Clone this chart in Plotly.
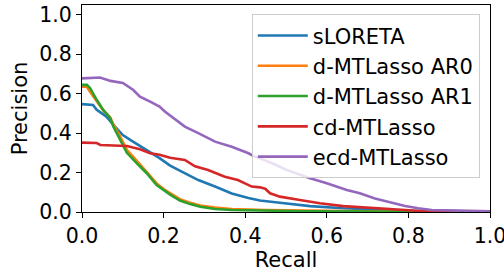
import plotly.graph_objects as go

# sLORETA
x_sloreta = [0, 0.027, 0.036, 0.06, 0.077, 0.1, 0.125, 0.158, 0.19, 0.216, 0.244, 0.285, 0.326, 0.367, 0.408, 0.436, 0.485, 0.559, 0.64, 0.73, 0.8, 0.9, 1.0]
y_sloreta = [0.547, 0.543, 0.518, 0.484, 0.442, 0.39, 0.357, 0.315, 0.273, 0.235, 0.205, 0.162, 0.129, 0.094, 0.071, 0.058, 0.047, 0.03, 0.019, 0.01, 0.006, 0.003, 0.0]

# d-MTLasso AR0
x_ar0 = [0, 0.012, 0.018, 0.036, 0.052, 0.069, 0.077, 0.093, 0.11, 0.134, 0.158, 0.183, 0.203, 0.216, 0.24, 0.265, 0.29, 0.326, 0.367, 0.45, 0.55, 0.7, 0.85, 1.0]
y_ar0 = [0.635, 0.635, 0.615, 0.56, 0.515, 0.48, 0.445, 0.385, 0.315, 0.26, 0.205, 0.145, 0.112, 0.095, 0.065, 0.047, 0.033, 0.022, 0.015, 0.01, 0.006, 0.003, 0.001, 0.0]

# d-MTLasso AR1
x_ar1 = [0, 0.012, 0.02, 0.036, 0.052, 0.069, 0.077, 0.093, 0.11, 0.134, 0.158, 0.183, 0.203, 0.216, 0.24, 0.265, 0.29, 0.326, 0.367, 0.45, 0.55, 0.7, 0.85, 1.0]
y_ar1 = [0.645, 0.645, 0.628, 0.569, 0.518, 0.477, 0.433, 0.365, 0.3, 0.248, 0.198, 0.137, 0.105, 0.088, 0.058, 0.04, 0.027, 0.015, 0.01, 0.006, 0.004, 0.002, 0.001, 0.0]

# cd-MTLasso
x_cd = [0, 0.036, 0.045, 0.11, 0.142, 0.167, 0.19, 0.216, 0.252, 0.277, 0.309, 0.35, 0.382, 0.416, 0.436, 0.449, 0.461, 0.485, 0.534, 0.583, 0.64, 0.73, 0.8, 0.84, 0.9, 1.0]
y_cd = [0.352, 0.35, 0.34, 0.335, 0.318, 0.298, 0.29, 0.275, 0.264, 0.232, 0.213, 0.179, 0.162, 0.129, 0.125, 0.118, 0.095, 0.078, 0.061, 0.044, 0.03, 0.019, 0.008, 0.004, 0.002, 0.0]

# ecd-MTLasso
x_ecd = [0, 0.02, 0.044, 0.07, 0.1, 0.125, 0.142, 0.167, 0.19, 0.203, 0.216, 0.252, 0.285, 0.326, 0.367, 0.408, 0.424, 0.436, 0.469, 0.502, 0.559, 0.6, 0.649, 0.681, 0.718, 0.75, 0.792, 0.824, 0.857, 0.922, 1.0]
y_ecd = [0.678, 0.68, 0.682, 0.665, 0.655, 0.62, 0.585, 0.56, 0.535, 0.51, 0.49, 0.433, 0.4, 0.357, 0.331, 0.298, 0.28, 0.272, 0.245, 0.213, 0.171, 0.146, 0.112, 0.095, 0.069, 0.052, 0.03, 0.019, 0.01, 0.007, 0.003]

series = [
    ("sLORETA", x_sloreta, y_sloreta, "#1f77b4"),
    ("d-MTLasso AR0", x_ar0, y_ar0, "#ff7f0e"),
    ("d-MTLasso AR1", x_ar1, y_ar1, "#2ca02c"),
    ("cd-MTLasso", x_cd, y_cd, "#d62728"),
    ("ecd-MTLasso", x_ecd, y_ecd, "#9467bd"),
]

x_ticks = [0.0, 0.2, 0.4, 0.6, 0.8, 1.0]
y_ticks = [0.0, 0.2, 0.4, 0.6, 0.8, 1.0]

FONT = "DejaVu Sans"

fig = go.Figure()
for i, (name, xs, ys, color) in enumerate(series):
    fig.add_trace(go.Scatter(
        x=xs, y=ys, mode="lines", name=name,
        line=dict(color=color, width=2.6),
        legendgroup=f"g{i}",
    ))

axis_common = dict(
    showgrid=False, zeroline=False, showline=True, linecolor="black", linewidth=1,
    mirror=True, ticks="outside", ticklen=5, tickwidth=1, tickcolor="black",
    tickfont=dict(family=FONT, size=20.5, color="black"),
    tickformat=".1f", automargin=False, ticklabeloverflow="allow",
)

fig.update_layout(
    width=504, height=274,
    margin=dict(l=82, r=14, t=5, b=62, autoexpand=False),
    paper_bgcolor="white", plot_bgcolor="white",
    font=dict(family=FONT, color="black"),
    xaxis=dict(range=[0, 1.0], tickvals=x_ticks,
               title=dict(text="Recall", font=dict(family=FONT, size=21), standoff=5),
               **axis_common),
    yaxis=dict(range=[0, 1.05], tickvals=y_ticks,
               title=dict(text="Precision", font=dict(family=FONT, size=21), standoff=5),
               **axis_common),
    legend=dict(
        x=0.975, y=0.955, xanchor="right", yanchor="top",
        bgcolor="rgba(255,255,255,0.8)", bordercolor="#cccccc", borderwidth=1,
        font=dict(family=FONT, size=21, color="black"),
        traceorder="grouped", tracegroupgap=0, itemwidth=50,
    ),
    showlegend=True,
)

fig.write_html("out.html", config={"displayModeBar": False})

# remove the default page margin so the figure sits at the window's top-left corner
with open("out.html", "r", encoding="utf-8") as f:
    html = f.read()
html = html.replace("<body>", '<body style="margin:0;padding:0;">', 1)
with open("out.html", "w", encoding="utf-8") as f:
    f.write(html)
